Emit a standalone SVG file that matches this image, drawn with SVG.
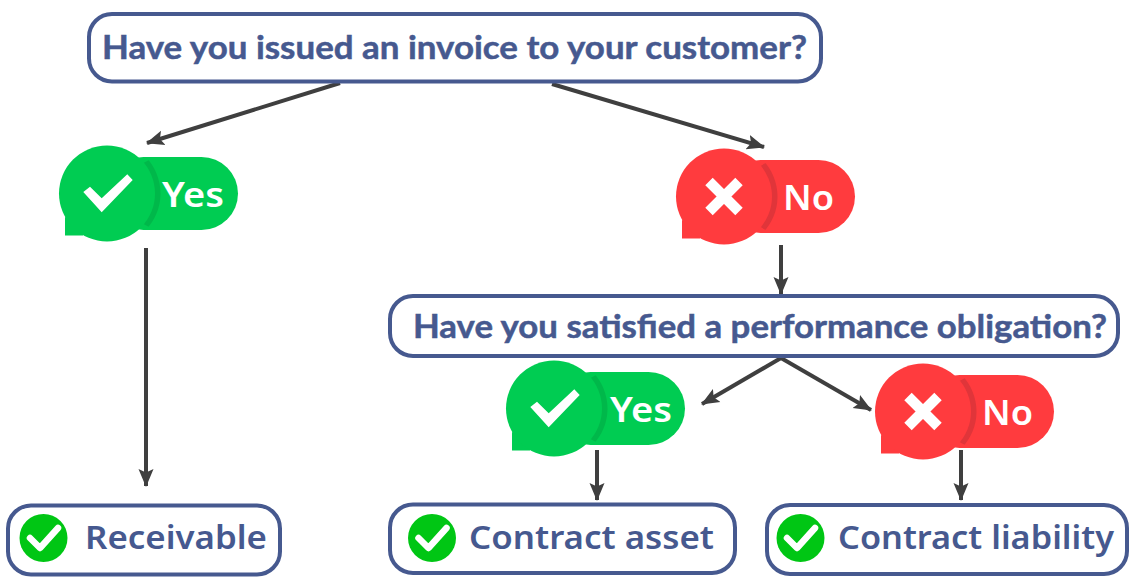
<svg xmlns="http://www.w3.org/2000/svg" width="1136" height="585" viewBox="0 0 1136 585">
<style>
.box{fill:#fff;stroke:#46598f;stroke-width:4}
.q{font-family:Lato,"Liberation Sans",sans-serif;font-weight:700;font-size:33px;fill:#46598f;stroke:#46598f;stroke-width:.5}
.r{font-family:"Noto Sans",sans-serif;font-weight:600;font-size:33px;fill:#46598f}
.b{font-family:"Noto Sans",sans-serif;font-weight:600;font-size:35px;fill:#fff}
.c{stroke:#3f3f3f;stroke-width:4;fill:none;marker-end:url(#a)}
.ok{fill:#00c614}
.tick{fill:none;stroke:#fff;stroke-width:6.500;stroke-linecap:round;stroke-linejoin:round}
</style>
<defs>
<marker id="a" markerUnits="userSpaceOnUse" markerWidth="20" markerHeight="20" refX="17" refY="9" orient="auto"><path d="M0 1.500L18 9L0 16.500L3.500 9Z" fill="#3f3f3f"/></marker>
<clipPath id="pill"><rect x="20" y="-36.500" width="111" height="73" rx="36.500"/></clipPath>
<g id="yes">
<rect x="0" y="-36.500" width="131" height="73" rx="36.500" fill="#00cc52"/>
<circle cx="1" r="52.500" fill="#00b84a" clip-path="url(#pill)"/>
<path d="M-42 42L-42 23.500L-24 30L-24 42Z" fill="#00cc52"/>
<circle r="48" fill="#00cc52"/>
<path d="M-23.700 -1.500L-17 -6.800L-5.300 4.800L20.300 -19.200L25.700 -13.500L-5.300 18.800Z" fill="#fff"/>
</g>
<g id="no">
<rect x="0" y="-36.500" width="131" height="73" rx="36.500" fill="#ff3b3e"/>
<circle cx="1" r="52.500" fill="#e0353a" clip-path="url(#pill)"/>
<path d="M-42 42L-42 23.500L-24 30L-24 42Z" fill="#ff3b3e"/>
<circle r="48" fill="#ff3b3e"/>
<path d="M-15 -15L15 15M15 -15L-15 15" stroke="#fff" stroke-width="10.500" fill="none"/>
</g>
</defs>
<rect width="1136" height="585" fill="#fff"/>
<g id="connectors">
<line class="c" x1="340" y1="83" x2="147" y2="143"/>
<line class="c" x1="552" y1="84" x2="764" y2="147"/>
<line class="c" x1="146" y1="248" x2="146" y2="486"/>
<line class="c" x1="781" y1="245" x2="781" y2="294"/>
<line class="c" x1="781" y1="358" x2="702" y2="404"/>
<line class="c" x1="781" y1="358" x2="871" y2="410"/>
<line class="c" x1="597" y1="450" x2="597" y2="500"/>
<line class="c" x1="961" y1="450" x2="961" y2="500"/>
</g>
<g id="q1"><rect class="box" x="89" y="14" width="732" height="67.500" rx="23"/><text class="q" x="102" y="59" textLength="705" lengthAdjust="spacingAndGlyphs">Have you issued an invoice to your customer?</text></g>
<g id="yes1"><use href="#yes" x="107" y="193.500"/><text class="b" x="162" y="207" textLength="62" lengthAdjust="spacingAndGlyphs">Yes</text></g>
<g id="no1"><use href="#no" x="724" y="196.500"/><text class="b" x="783" y="210" textLength="51" lengthAdjust="spacingAndGlyphs">No</text></g>
<g id="q2"><rect class="box" x="390" y="296" width="728" height="60" rx="23"/><text class="q" x="413" y="338" textLength="694" lengthAdjust="spacingAndGlyphs">Have you satisfied a performance obligation?</text></g>
<g id="yes2"><use href="#yes" x="554" y="408.500"/><text class="b" x="610" y="422" textLength="62" lengthAdjust="spacingAndGlyphs">Yes</text></g>
<g id="no2"><use href="#no" x="923" y="411.500"/><text class="b" x="982" y="425" textLength="51" lengthAdjust="spacingAndGlyphs">No</text></g>
<g id="receivable"><rect class="box" x="8" y="505.500" width="272" height="69" rx="23"/><circle class="ok" cx="43.500" cy="538" r="24"/><path class="tick" d="M30 538L40 548L58 528"/><text class="r" x="85" y="549" textLength="182" lengthAdjust="spacingAndGlyphs">Receivable</text></g>
<g id="asset"><rect class="box" x="390" y="504.500" width="345" height="68.500" rx="23"/><circle class="ok" cx="432" cy="538" r="24"/><path class="tick" d="M418.500 538L428.500 548L446.500 528"/><text class="r" x="469" y="549" textLength="245" lengthAdjust="spacingAndGlyphs">Contract asset</text></g>
<g id="liability"><rect class="box" x="767" y="505" width="360" height="69" rx="23"/><circle class="ok" cx="800.500" cy="538" r="24"/><path class="tick" d="M787 538L797 548L815 528"/><text class="r" x="838" y="549" textLength="276" lengthAdjust="spacingAndGlyphs">Contract liability</text></g>
</svg>
